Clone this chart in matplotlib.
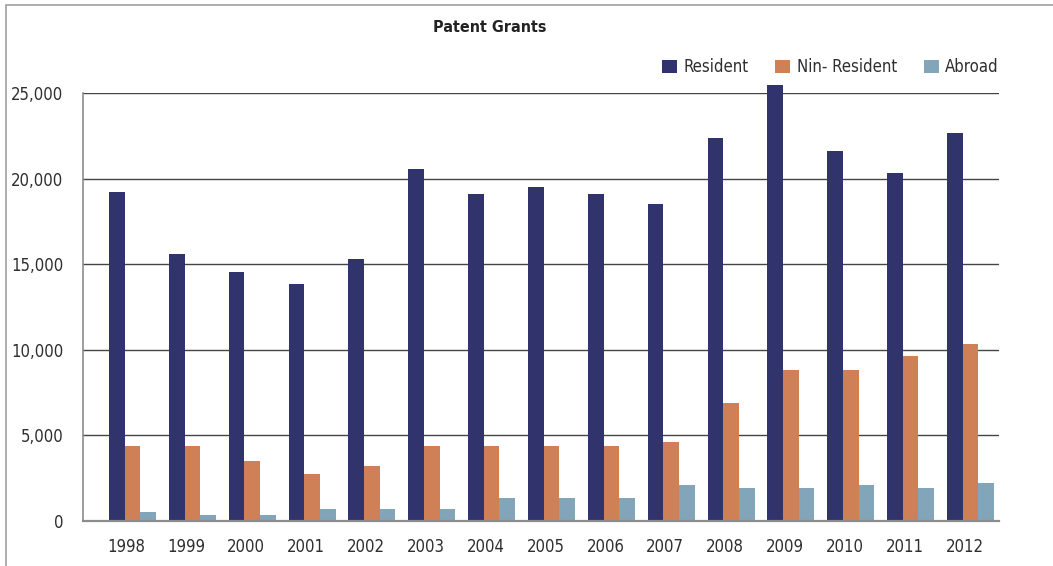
import numpy as np
import matplotlib
matplotlib.use("Agg")
import matplotlib.pyplot as plt
from matplotlib import font_manager as fm
from matplotlib.patches import Rectangle
from matplotlib.ticker import FuncFormatter

years = ["1998", "1999", "2000", "2001", "2002", "2003", "2004", "2005",
         "2006", "2007", "2008", "2009", "2010", "2011", "2012"]
resident = [19230, 15620, 14530, 13830, 15340, 20560, 19120, 19510,
            19120, 18550, 22370, 25500, 21650, 20320, 22670]
non_resident = [4380, 4380, 3490, 2750, 3240, 4380, 4380, 4380,
                4380, 4640, 6870, 8820, 8820, 9670, 10370]
abroad = [520, 340, 340, 700, 700, 700, 1370, 1370,
          1370, 2090, 1910, 1910, 2090, 1910, 2210]
series_names = ["Resident", "Nin- Resident", "Abroad"]
colors = ["#31336d", "#cf8056", "#82a5b9"]
yticks = [0, 5000, 10000, 15000, 20000, 25000]

# narrow sans if available, otherwise condensed DejaVu
names = {f.name for f in fm.fontManager.ttflist}
if "Liberation Sans Narrow" in names:
    plt.rcParams["font.family"] = ["Liberation Sans Narrow", "DejaVu Sans"]
    stretch = "normal"
else:
    plt.rcParams["font.family"] = ["DejaVu Sans"]
    stretch = "condensed"
plt.rcParams["font.stretch"] = stretch
text_color = "#2e2e2e"

fig = plt.figure(figsize=(10.53, 5.66), dpi=100)
W, H = 1053, 566
ax = fig.add_axes([83 / W, 45 / H, (999 - 83) / W, (521 - 93.3) / H])

x = np.arange(len(years))
bw = 0.262
for k, (vals, name, c) in enumerate(zip([resident, non_resident, abroad], series_names, colors)):
    ax.bar(x + (k - 1) * bw, vals, width=bw, color=c, label=name,
           zorder=3, clip_on=False)

ax.set_xlim(-0.827, 14.476)
ax.set_ylim(0, 25000)
ax.set_yticks(yticks)
ax.yaxis.set_major_formatter(FuncFormatter(lambda v, p: f"{int(v):,}"))
ax.set_xticks(x - 0.1)
ax.set_xticklabels(years)
ax.tick_params(axis="both", length=0, labelsize=12, colors=text_color)
ax.tick_params(axis="y", pad=14)
ax.tick_params(axis="x", pad=12)

ax.grid(axis="y", color="#444444", linewidth=1.0, zorder=1)
for s in ["top", "right"]:
    ax.spines[s].set_visible(False)
ax.spines["left"].set_color("#8c8c8c")
ax.spines["left"].set_linewidth(1.2)
ax.spines["bottom"].set_color("#8c8c8c")
ax.spines["bottom"].set_linewidth(1.6)
ax.spines["bottom"].set_zorder(4)

fig.text(490 / W, 1 - 27 / H, "Patent Grants", ha="center", va="center",
         fontsize=11.5, fontweight="bold", color="#222222")

leg = ax.legend(loc="center right", bbox_to_anchor=(1.0, 1 + 26 / (521 - 93.3)),
                ncol=3, frameon=False, fontsize=12, handlelength=0.9,
                handleheight=0.9, handletextpad=0.4, columnspacing=1.6,
                borderaxespad=0, borderpad=0)
for t in leg.get_texts():
    t.set_color(text_color)

# thin outer frame
fig.patches.append(Rectangle((6 / W, -0.1), 1.2, (H - 5) / H + 0.1,
                             transform=fig.transFigure, fill=False,
                             edgecolor="#a0a0a0", linewidth=1.2))

fig.savefig("out.png", dpi=100)
